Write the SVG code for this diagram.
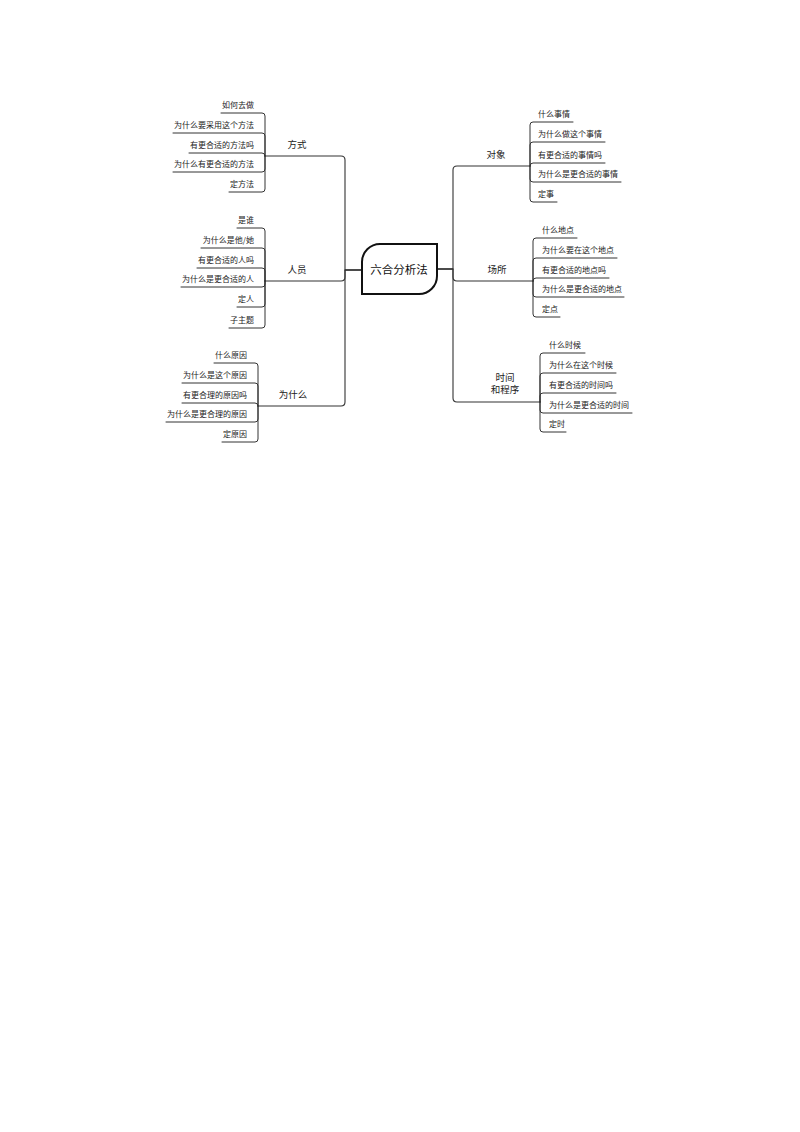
<svg xmlns="http://www.w3.org/2000/svg" width="800" height="1132" viewBox="0 0 800 1132">
<style>
.bg{fill:#fff}
.c{fill:none;stroke:#333;stroke-width:1;stroke-linecap:round;stroke-linejoin:round}
.m{fill:none;stroke:#333;stroke-width:1.1;stroke-linecap:round;stroke-linejoin:round}
.t{font-family:"Noto Sans CJK SC","Noto Sans",sans-serif;font-size:8px;fill:#222}
.l{text-anchor:end}
.b{font-family:"Noto Sans CJK SC","Noto Sans",sans-serif;font-size:9.5px;fill:#222;text-anchor:middle}
.root{fill:#fff;stroke:#111;stroke-width:2}
.rt{font-family:"Noto Sans CJK SC","Noto Sans",sans-serif;font-size:11.5px;fill:#111;text-anchor:middle}
</style>
<rect class="bg" x="0" y="0" width="800" height="1132"/>
<g id="connectors">
<path class="m" d="M362,270 H345 V160 Q345,156 341,156 H265"/>
<path class="m" d="M362,270 H345 V277 Q345,281 341,281 H265"/>
<path class="m" d="M362,270 H345 V402 Q345,406 341,406 H258"/>
<path class="m" d="M437,269 H453 V170 Q453,166 457,166 H530"/>
<path class="m" d="M437,269 H453 V277 Q453,281 457,281 H533"/>
<path class="m" d="M437,269 H453 V398 Q453,402 457,402 H540"/>
<path class="c" d="M265,156 V116 Q265,113 262,113 H221"/>
<path class="c" d="M265,156 V136 Q265,133 262,133 H173"/>
<path class="c" d="M265,156 Q265,153 262,153 H189"/>
<path class="c" d="M265,156 V169 Q265,172 262,172 H173"/>
<path class="c" d="M265,156 V189 Q265,192 262,192 H229"/>
<path class="c" d="M265,281 V231 Q265,228 262,228 H237"/>
<path class="c" d="M265,281 V251 Q265,248 262,248 H201"/>
<path class="c" d="M265,281 V271 Q265,268 262,268 H197"/>
<path class="c" d="M265,281 V284 Q265,287 262,287 H181"/>
<path class="c" d="M265,281 V304 Q265,307 262,307 H237"/>
<path class="c" d="M265,281 V325 Q265,328 262,328 H229"/>
<path class="c" d="M258,406 V366 Q258,363 255,363 H214"/>
<path class="c" d="M258,406 V386 Q258,383 255,383 H182"/>
<path class="c" d="M258,406 Q258,403 255,403 H182"/>
<path class="c" d="M258,406 V419 Q258,422 255,422 H166"/>
<path class="c" d="M258,406 V439 Q258,442 255,442 H222"/>
<path class="c" d="M530,166 V125 Q530,122 533,122 H573"/>
<path class="c" d="M530,166 V145 Q530,142 533,142 H605"/>
<path class="c" d="M530,166 Q530,163 533,163 H605"/>
<path class="c" d="M530,166 V179 Q530,182 533,182 H621"/>
<path class="c" d="M530,166 V199 Q530,202 533,202 H557"/>
<path class="c" d="M533,281 V241 Q533,238 536,238 H577"/>
<path class="c" d="M533,281 V261 Q533,258 536,258 H617"/>
<path class="c" d="M533,281 Q533,278 536,278 H609"/>
<path class="c" d="M533,281 V294 Q533,297 536,297 H624"/>
<path class="c" d="M533,281 V314 Q533,317 536,317 H560"/>
<path class="c" d="M540,402 V356 Q540,353 543,353 H585"/>
<path class="c" d="M540,402 V376 Q540,373 543,373 H616"/>
<path class="c" d="M540,402 V396 Q540,393 543,393 H616"/>
<path class="c" d="M540,402 V410 Q540,413 543,413 H632"/>
<path class="c" d="M540,402 V429 Q540,432 543,432 H566"/>
</g>
<g id="root">
<path class="root" d="M362,262 A18,18 0 0 1 380,244 H437 V276 A18,18 0 0 1 419,294 H362 Z"/>
<text class="rt" x="399" y="273.5">六合分析法</text>
</g>
<g id="fangshi">
<text class="b" x="297" y="147.5">方式</text>
<g id="fangshi-children">
<text class="t l" x="254" y="107.5">如何去做</text>
<text class="t l" x="254" y="127.5">为什么要采用这个方法</text>
<text class="t l" x="254" y="147.5">有更合适的方法吗</text>
<text class="t l" x="254" y="166.5">为什么有更合适的方法</text>
<text class="t l" x="254" y="186.5">定方法</text>
</g>
</g>
<g id="renyuan">
<text class="b" x="297" y="272.5">人员</text>
<g id="renyuan-children">
<text class="t l" x="254" y="222.5">是谁</text>
<text class="t l" x="254" y="242.5">为什么是他/她</text>
<text class="t l" x="254" y="262.5">有更合适的人吗</text>
<text class="t l" x="254" y="281.5">为什么是更合适的人</text>
<text class="t l" x="254" y="301.5">定人</text>
<text class="t l" x="254" y="322.5">子主题</text>
</g>
</g>
<g id="weishenme">
<text class="b" x="293" y="397.5">为什么</text>
<g id="weishenme-children">
<text class="t l" x="247" y="357.5">什么原因</text>
<text class="t l" x="247" y="377.5">为什么是这个原因</text>
<text class="t l" x="247" y="397.5">有更合理的原因吗</text>
<text class="t l" x="247" y="416.5">为什么是更合理的原因</text>
<text class="t l" x="247" y="436.5">定原因</text>
</g>
</g>
<g id="duixiang">
<text class="b" x="496" y="157.5">对象</text>
<g id="duixiang-children">
<text class="t" x="538" y="116.5">什么事情</text>
<text class="t" x="538" y="136.5">为什么做这个事情</text>
<text class="t" x="538" y="157.5">有更合适的事情吗</text>
<text class="t" x="538" y="176.5">为什么是更合适的事情</text>
<text class="t" x="538" y="196.5">定事</text>
</g>
</g>
<g id="changsuo">
<text class="b" x="497" y="272.5">场所</text>
<g id="changsuo-children">
<text class="t" x="542" y="232.5">什么地点</text>
<text class="t" x="542" y="252.5">为什么要在这个地点</text>
<text class="t" x="542" y="272.5">有更合适的地点吗</text>
<text class="t" x="542" y="291.5">为什么是更合适的地点</text>
<text class="t" x="542" y="311.5">定点</text>
</g>
</g>
<g id="shijian">
<text class="b" x="505" y="381">时间</text>
<text class="b" x="505" y="393">和程序</text>
<g id="shijian-children">
<text class="t" x="549" y="347.5">什么时候</text>
<text class="t" x="549" y="367.5">为什么在这个时候</text>
<text class="t" x="549" y="387.5">有更合适的时间吗</text>
<text class="t" x="549" y="407.5">为什么是更合适的时间</text>
<text class="t" x="549" y="426.5">定时</text>
</g>
</g>
</svg>
